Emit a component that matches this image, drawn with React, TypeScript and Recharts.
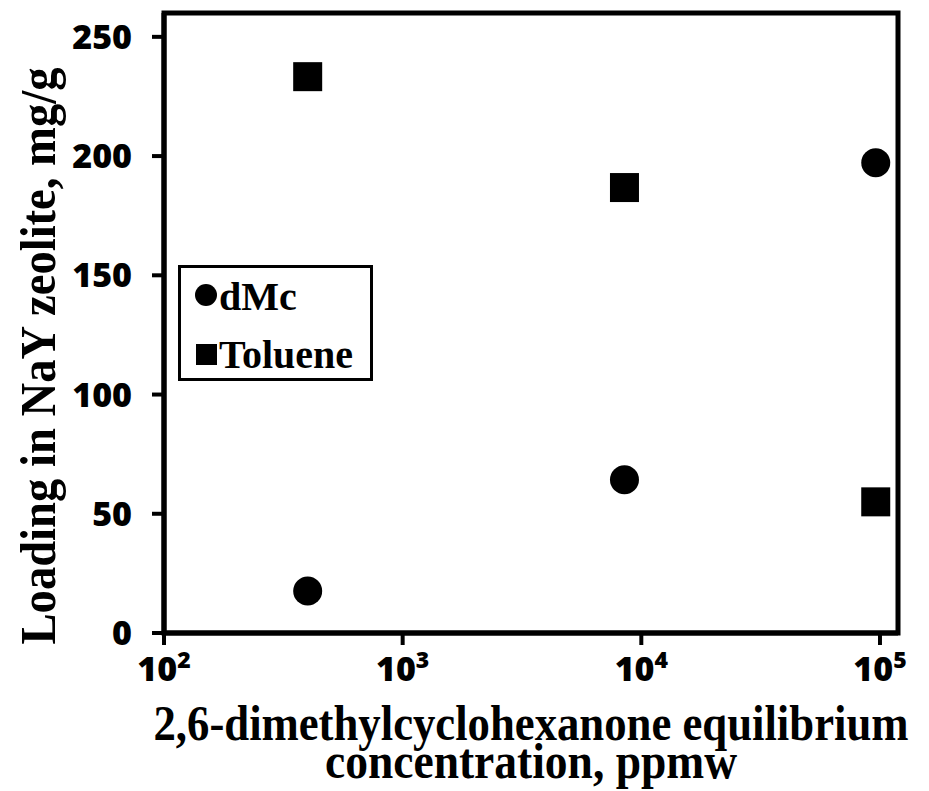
import { Legend, ReferenceArea, Scatter, ScatterChart, XAxis, YAxis } from 'recharts';

// equilibrium concentration of 2,6-dimethylcyclohexanone (ppmw)
const concentrations = [400, 8500, 96000];
// loading in NaY zeolite (mg/g)
const dmcLoading = [17.6, 64.3, 197.2];
const tolueneLoading = [233.3, 186.8, 55.0];

const xTicks = [100, 1000, 10000, 100000];
const yTicks = [0, 50, 100, 150, 200, 250];

const dmcData = concentrations.map((c, i) => ({ conc: c, loading: dmcLoading[i] }));
const tolueneData = concentrations.map((c, i) => ({ conc: c, loading: tolueneLoading[i] }));

const tickFont = "'Open Sans', sans-serif";
const titleFont = "'Liberation Serif', 'Times New Roman', serif";

function Dot(props: any) {
    return <circle cx={props.cx} cy={props.cy} r={14.5} fill="#000" />;
}

function Box(props: any) {
    return <rect x={props.cx - 14.5} y={props.cy - 14.5} width={29} height={29} fill="#000" />;
}

/**
 * Tick label drawn as a power of ten
 */
function PowerTick(props: any) {
    const { x, y, payload } = props;
    const exp = Math.round(Math.log10(payload.value));
    return <text x={x} y={y + 36} textAnchor="middle" fontFamily={tickFont} fontWeight={800}
        fontSize={34} fill="#000">
        10<tspan fontSize={23} dy={-13}>{exp}</tspan>
    </text>;
}

function XTitle(props: any) {
    const vb = props.viewBox;
    const cx = vb.x + vb.width / 2;
    const style = { fontFamily: titleFont, fontWeight: 700, fontSize: 50 };
    return <g>
        <text x={cx} y={vb.y + 107} textAnchor="middle" style={style} fill="#000"
            textLength={755} lengthAdjust="spacingAndGlyphs">
            2,6-dimethylcyclohexanone equilibrium
        </text>
        <text x={cx} y={vb.y + 145} textAnchor="middle" style={style} fill="#000"
            textLength={412} lengthAdjust="spacingAndGlyphs">
            concentration, ppmw
        </text>
    </g>;
}

function YTitle(props: any) {
    const vb = props.viewBox;
    const cy = vb.y + 343;
    return <text x={55} y={cy} transform={`rotate(-90 55 ${cy})`} textAnchor="middle"
        fontFamily={titleFont} fontWeight={700} fontSize={50} fill="#000"
        textLength={577} lengthAdjust="spacingAndGlyphs">
        Loading in NaY zeolite, mg/g
    </text>;
}

function LegendBox() {
    const text = { fontFamily: titleFont, fontWeight: 700, fontSize: 40, fill: "#000" };
    return <svg width={189} height={110} style={{ display: "block" }}>
        <circle cx={25} cy={27} r={11} fill="#000" />
        <text x={38} y={42} style={text}>dMc</text>
        <rect x={15} y={76} width={21} height={21} fill="#000" />
        <text x={38} y={100} style={text}>Toluene</text>
    </svg>;
}

export default function App() {
    return <div style={{ position: "absolute", left: 0, top: 0, background: "#fff" }}>
        <ScatterChart width={929} height={791} margin={{ top: 13, right: 31, bottom: 0, left: 0 }}>
            <XAxis dataKey="conc" type="number" scale="log" domain={[100, 119000]} ticks={xTicks}
                allowDataOverflow height={158} tickSize={12} tickMargin={0}
                axisLine={{ stroke: "#000", strokeWidth: 5 }}
                tickLine={{ stroke: "#000", strokeWidth: 4 }}
                tick={<PowerTick />} interval={0}
                label={{ content: (p: any) => <XTitle {...p} /> }} />
            <YAxis dataKey="loading" type="number" domain={[0, 260]} ticks={yTicks}
                allowDataOverflow width={164} tickSize={12} tickMargin={20} interval={0}
                axisLine={{ stroke: "#000", strokeWidth: 5 }}
                tickLine={{ stroke: "#000", strokeWidth: 4 }}
                tick={{ fill: "#000", fontFamily: tickFont, fontWeight: 800, fontSize: 34 }}
                label={{ content: (p: any) => <YTitle {...p} /> }} />
            <ReferenceArea x1={100} x2={119000} y1={0} y2={260} fill="none" fillOpacity={0}
                stroke="#000" strokeWidth={5} />
            <Scatter name="dMc" data={dmcData} fill="#000" shape={<Dot />} isAnimationActive={false} />
            <Scatter name="Toluene" data={tolueneData} fill="#000" shape={<Box />} isAnimationActive={false} />
            <Legend layout="vertical" align="center" verticalAlign="middle" content={() => <LegendBox />}
                wrapperStyle={{
                    left: 178, top: 265, width: 195, height: 116, border: "3px solid #000",
                    boxSizing: "border-box", background: "#fff"
                }} />
        </ScatterChart>
    </div>;
}
